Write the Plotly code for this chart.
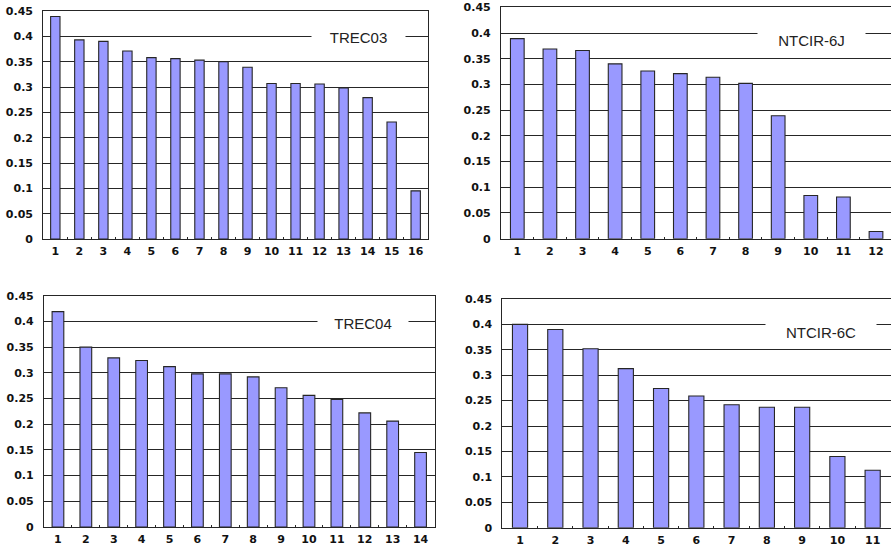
import plotly.graph_objects as go

# ---- data ----
trec03_labels = [str(i) for i in range(1, 17)]
trec03_values = [0.439, 0.393, 0.390, 0.371, 0.358, 0.356, 0.353, 0.350, 0.339, 0.307, 0.307, 0.306, 0.298, 0.279, 0.231, 0.095]

ntcir6j_labels = [str(i) for i in range(1, 13)]
ntcir6j_values = [0.389, 0.369, 0.366, 0.340, 0.326, 0.321, 0.314, 0.302, 0.239, 0.084, 0.081, 0.014]

trec04_labels = [str(i) for i in range(1, 15)]
trec04_values = [0.419, 0.350, 0.329, 0.324, 0.312, 0.298, 0.298, 0.292, 0.271, 0.256, 0.248, 0.222, 0.206, 0.145]

ntcir6c_labels = [str(i) for i in range(1, 12)]
ntcir6c_values = [0.400, 0.390, 0.352, 0.313, 0.274, 0.259, 0.242, 0.237, 0.237, 0.140, 0.113]

y_tickvals = [0, 0.05, 0.1, 0.15, 0.2, 0.25, 0.3, 0.35, 0.4, 0.45]
y_ticktext = ["0", "0.05", "0.1", "0.15", "0.2", "0.25", "0.3", "0.35", "0.4", "0.45"]

W, H = 891, 550
BAR_COLOR = "#9999FF"
LINE_COLOR = "#262626"
TICK_FONT = dict(family="DejaVu Sans", size=11, color="#111111", weight="bold")

panels = [
    # name, labels, values, x px (l, r), y px (top, bottom), x range, bar width, legend (cx px, cy px, w), right border
    ("TREC03", trec03_labels, trec03_values, (43.3, 427.7), (11, 239), None, 0.39, (358, 37, 93), True),
    ("NTCIR-6J", ntcir6j_labels, ntcir6j_values, (501, 891), (7.3, 238.7), (-0.5, 11.46), 0.42, (811, 40, 107), False),
    ("TREC04", trec04_labels, trec04_values, (44, 434.5), (295.7, 527), None, 0.42, (363, 323, 90), True),
    ("NTCIR-6C", ntcir6c_labels, ntcir6c_values, (502.4, 891), (299, 527.7), (-0.5, 10.52), 0.43, (821, 332, 110), False),
]

fig = go.Figure()
annotations = []
for i, (name, labels, values, xpx, ypx, xr, bw, leg, rborder) in enumerate(panels):
    n = "" if i == 0 else str(i + 1)
    fig.add_trace(go.Bar(
        x=labels, y=values, name=name, width=bw,
        marker=dict(color=BAR_COLOR, line=dict(color=LINE_COLOR, width=1.1)),
        xaxis="x" + n, yaxis="y" + n, showlegend=False,
    ))
    xdom = [xpx[0] / W, min(xpx[1] / W, 1.0)]
    ydom = [1 - ypx[1] / H, 1 - ypx[0] / H]
    xaxis = dict(
        domain=xdom, anchor="y" + n, type="category",
        range=list(xr) if xr else [-0.5, len(labels) - 0.5],
        showline=True, linecolor=LINE_COLOR, linewidth=1.2, mirror=True,
        showgrid=False, ticks="inside", tickson="boundaries", ticklen=2,
        tickcolor=LINE_COLOR, tickfont=TICK_FONT, ticklabelstandoff=2,
        tickangle=0, fixedrange=True, automargin=False,
    )
    yaxis = dict(
        domain=ydom, anchor="x" + n, range=[0, 0.45],
        tickvals=y_tickvals, ticktext=y_ticktext,
        showline=True, linecolor=LINE_COLOR, linewidth=1.2, mirror=rborder,
        showgrid=True, gridcolor=LINE_COLOR, gridwidth=1.2, zeroline=False,
        ticks="", tickfont=TICK_FONT, ticklabelstandoff=7, fixedrange=True,
        automargin=False,
    )
    fig.update_layout(**{"xaxis" + n: xaxis, "yaxis" + n: yaxis})
    cx, cy, lw = leg
    annotations.append(dict(
        text=name, xref="paper", yref="paper", x=cx / W, y=1 - cy / H,
        xanchor="center", yanchor="middle", showarrow=False,
        width=lw, height=22, bgcolor="white", borderpad=0,
        font=dict(family="Liberation Sans", size=15, color="#222222"),
    ))

fig.update_layout(
    width=W, height=H,
    margin=dict(l=0, r=0, t=0, b=0, autoexpand=False),
    paper_bgcolor="white", plot_bgcolor="white",
    annotations=annotations,
    showlegend=False,
)

fig.write_html("out.html")
